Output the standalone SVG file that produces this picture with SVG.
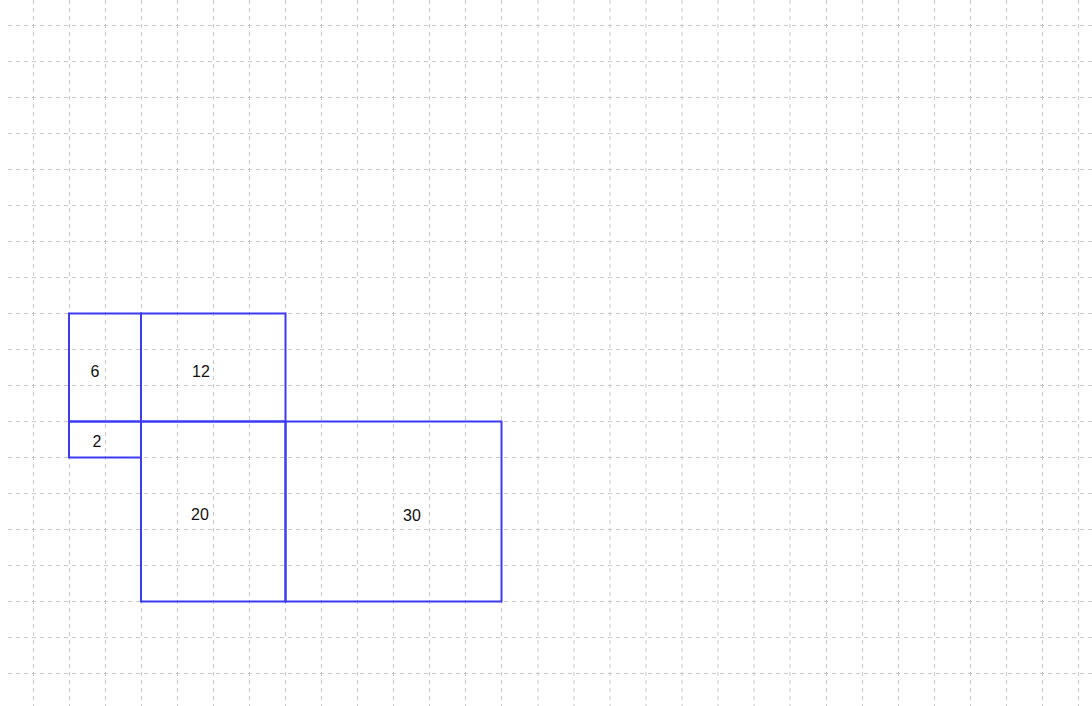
<svg xmlns="http://www.w3.org/2000/svg" width="1092" height="706" viewBox="0 0 1092 706">
<style>
.grid line{stroke:#c8c8c8;stroke-width:1;stroke-dasharray:4 4;fill:none}
.cell{fill:none;stroke:#3b3bf2;stroke-width:2}
.lbl{font-family:"Liberation Sans",Arial,sans-serif;font-size:16px;fill:#111;text-anchor:middle;dominant-baseline:central}
</style>
<rect width="1092" height="706" fill="#ffffff"/>
<g id="grid" class="grid">
<line x1="33.5" y1="0" x2="33.5" y2="706"/>
<line x1="69.5" y1="0" x2="69.5" y2="706"/>
<line x1="105.5" y1="0" x2="105.5" y2="706"/>
<line x1="141.5" y1="0" x2="141.5" y2="706"/>
<line x1="177.5" y1="0" x2="177.5" y2="706"/>
<line x1="213.5" y1="0" x2="213.5" y2="706"/>
<line x1="249.5" y1="0" x2="249.5" y2="706"/>
<line x1="285.5" y1="0" x2="285.5" y2="706"/>
<line x1="321.5" y1="0" x2="321.5" y2="706"/>
<line x1="357.5" y1="0" x2="357.5" y2="706"/>
<line x1="393.5" y1="0" x2="393.5" y2="706"/>
<line x1="429.5" y1="0" x2="429.5" y2="706"/>
<line x1="465.5" y1="0" x2="465.5" y2="706"/>
<line x1="501.5" y1="0" x2="501.5" y2="706"/>
<line x1="538" y1="0" x2="538" y2="706"/>
<line x1="574" y1="0" x2="574" y2="706"/>
<line x1="610" y1="0" x2="610" y2="706"/>
<line x1="646" y1="0" x2="646" y2="706"/>
<line x1="682" y1="0" x2="682" y2="706"/>
<line x1="718" y1="0" x2="718" y2="706"/>
<line x1="754" y1="0" x2="754" y2="706"/>
<line x1="790" y1="0" x2="790" y2="706"/>
<line x1="826.5" y1="0" x2="826.5" y2="706"/>
<line x1="862.5" y1="0" x2="862.5" y2="706"/>
<line x1="898.5" y1="0" x2="898.5" y2="706"/>
<line x1="934.5" y1="0" x2="934.5" y2="706"/>
<line x1="970.5" y1="0" x2="970.5" y2="706"/>
<line x1="1006.5" y1="0" x2="1006.5" y2="706"/>
<line x1="1042.5" y1="0" x2="1042.5" y2="706"/>
<line x1="1078.5" y1="0" x2="1078.5" y2="706"/>
<line x1="8" y1="25.5" x2="1092" y2="25.5"/>
<line x1="8" y1="61.5" x2="1092" y2="61.5"/>
<line x1="8" y1="97.5" x2="1092" y2="97.5"/>
<line x1="8" y1="133.5" x2="1092" y2="133.5"/>
<line x1="8" y1="169.5" x2="1092" y2="169.5"/>
<line x1="8" y1="205.5" x2="1092" y2="205.5"/>
<line x1="8" y1="241.5" x2="1092" y2="241.5"/>
<line x1="8" y1="277.5" x2="1092" y2="277.5"/>
<line x1="8" y1="313.5" x2="1092" y2="313.5"/>
<line x1="8" y1="349.5" x2="1092" y2="349.5"/>
<line x1="8" y1="385.5" x2="1092" y2="385.5"/>
<line x1="8" y1="421.5" x2="1092" y2="421.5"/>
<line x1="8" y1="457.5" x2="1092" y2="457.5"/>
<line x1="8" y1="493.5" x2="1092" y2="493.5"/>
<line x1="8" y1="529.5" x2="1092" y2="529.5"/>
<line x1="8" y1="565.5" x2="1092" y2="565.5"/>
<line x1="8" y1="601.5" x2="1092" y2="601.5"/>
<line x1="8" y1="637.5" x2="1092" y2="637.5"/>
<line x1="8" y1="673.5" x2="1092" y2="673.5"/>
</g>
<g id="cell-6"><rect class="cell" x="69" y="313.5" width="72" height="108"/><text class="lbl" x="95" y="371">6</text></g>
<g id="cell-2"><rect class="cell" x="69" y="421.5" width="72" height="36"/><text class="lbl" x="97" y="441">2</text></g>
<g id="cell-12"><rect class="cell" x="141" y="313.5" width="144.5" height="108"/><text class="lbl" x="201" y="371">12</text></g>
<g id="cell-20"><rect class="cell" x="141" y="421.5" width="144.5" height="180"/><text class="lbl" x="200" y="514">20</text></g>
<g id="cell-30"><rect class="cell" x="285.5" y="421.5" width="216" height="180"/><text class="lbl" x="412" y="515.5">30</text></g>
<g id="connectors"></g>
</svg>
